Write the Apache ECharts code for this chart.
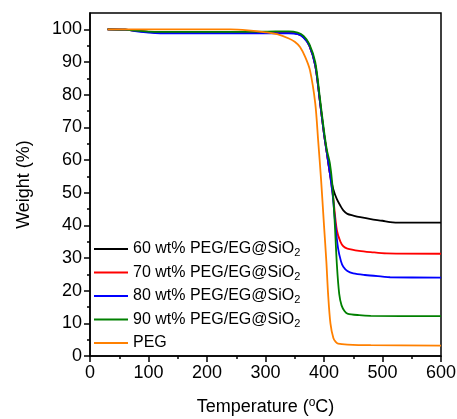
<!DOCTYPE html>
<html>
<head>
<meta charset="utf-8">
<script src="https://cdn.jsdelivr.net/npm/echarts@6/dist/echarts.min.js"></script>
<style>
html,body{margin:0;padding:0;background:#fff;}
#main{width:457px;height:419px;}
</style>
</head>
<body>
<div id="main"></div>
<script>
// TGA curves
var names=['60 wt% PEG/EG@SiO2','70 wt% PEG/EG@SiO2','80 wt% PEG/EG@SiO2','90 wt% PEG/EG@SiO2','PEG'];
var colors=['#000000','#ff0000','#0000ff','#008000','#ff8000'];

var t60=[30,60,80,100,120,200,300,340,355,365,375,385,393,400,405,410,416,422,428,433,440,450,462,480,500,513,530,600];
var w60=[100,99.9,99.5,99.2,99.0,99.0,99.0,99.0,98.6,97.6,95,89,78,68,62,56,51,48,46,44.6,43.5,43,42.5,41.9,41.4,41,40.8,40.8];

var t70=[30,60,80,100,120,200,300,340,355,365,375,385,393,400,405,410,416,422,428,433,440,460,480,507,600];
var w70=[100,99.9,99.5,99.2,99.0,99.0,99.0,99.0,98.6,97.6,95,89,78,68,62,56,48,38.5,35,33.6,32.9,32.2,31.8,31.4,31.3];

var t80=[30,60,80,100,120,200,300,340,355,365,375,385,393,400,405,410,415,419,424,429,433,440,450,470,500,513,600];
var w80=[100,99.9,99.4,99.0,98.8,98.8,98.8,98.8,98.5,97.5,95,89,78,68,62,56,49,41,33,29,27.3,26,25.3,24.8,24.3,24.1,24];

var t90=[30,60,80,100,120,200,300,340,355,365,375,385,393,400,405,410,414,418,422,426,430,435,440,460,480,600];
var w90=[100,99.9,99.6,99.3,99.2,99.2,99.3,99.4,99.0,98.0,95.5,90,79,69,63,59,53,42,28,19,15.5,13.8,13,12.5,12.3,12.2];

var tPEG=[30,240,270,300,320,340,350,359,368,376,385,390,395,400,404,407,411,416,420,424,440,480,600];
var wPEG=[100,100,99.7,99.1,98.5,97.2,96.2,94.6,91.5,87.5,77.4,66,54,40,29,19,10,5.5,4.3,3.8,3.5,3.3,3.2];

var temps=[t60,t70,t80,t90,tPEG];
var weights=[w60,w70,w80,w90,wPEG];

var yTicks=[0,10,20,30,40,50,60,70,80,90,100];
var yMinor=[5,15,25,35,45,55,65,75,85,95];

function pairs(t,w){
    var res=[];
    for(var i=0;i<t.length;i++) res.push([t[i],w[i]]);
    return res;
}

function legendText(name){
    if(name.slice(-2)==='O2') return '{a|'+name.slice(0,-1)+'}{s|2}';
    return '{a|'+name+'}';
}

var myChart=echarts.init(document.getElementById('main'));
var font='"Liberation Sans", Arial, sans-serif';

var series=[];
for(var i=0;i<names.length;i++){
    series.push({
        name:names[i],
        type:'line',
        data:pairs(temps[i],weights[i]),
        symbol:'none',
        smooth:0.3,
        lineStyle:{color:colors[i],width:1.8},
        itemStyle:{color:colors[i]},
        animation:false
    });
}

var option={
    backgroundColor:'#fff',
    animation:false,
    textStyle:{fontFamily:font},
    grid:{left:90,right:16,top:13,bottom:63,show:true,borderColor:'#000',borderWidth:1.5,
        containLabel:false,outerBoundsMode:'none'},
    legend:{
        orient:'vertical',
        left:88,
        top:236,
        itemWidth:34,
        itemHeight:14,
        itemGap:6,
        data:names,
        itemStyle:{opacity:0},
        formatter:legendText,
        textStyle:{
            fontFamily:font,color:'#000',
            rich:{
                a:{fontSize:16,fontFamily:font,color:'#000'},
                s:{fontSize:11,fontFamily:font,color:'#000',padding:[8,0,0,0]}
            }
        }
    },
    xAxis:{
        type:'value',
        min:0,max:600,interval:100,
        name:'Temperature ({sup|o}C)',
        nameLocation:'middle',
        nameGap:41,
        nameTextStyle:{
            fontSize:18,color:'#000',fontFamily:font,
            rich:{sup:{fontSize:12,color:'#000',fontFamily:font,padding:[0,0,9,0]}}
        },
        axisLine:{lineStyle:{color:'#000',width:1.5}},
        axisTick:{show:true,inside:false,length:6,lineStyle:{color:'#000',width:1.5}},
        minorTick:{show:true,splitNumber:2,length:3,lineStyle:{color:'#000',width:1.5}},
        axisLabel:{fontSize:18,color:'#000',margin:8,fontFamily:font},
        splitLine:{show:false}
    },
    yAxis:[{
        type:'value',
        min:0,max:105,
        name:'Weight (%)',
        nameLocation:'middle',
        nameGap:57,
        nameTextStyle:{fontSize:18,color:'#000',fontFamily:font},
        axisLine:{lineStyle:{color:'#000',width:1.5}},
        axisTick:{show:true,length:6,customValues:yTicks,lineStyle:{color:'#000',width:1.5}},
        axisLabel:{fontSize:18,color:'#000',margin:8,fontFamily:font,customValues:yTicks},
        splitLine:{show:false}
    },{
        type:'value',
        min:0,max:105,
        position:'left',
        axisLine:{show:false},
        axisTick:{show:true,length:3,customValues:yMinor,lineStyle:{color:'#000',width:1.5}},
        axisLabel:{show:false},
        splitLine:{show:false}
    }],
    series:series
};
myChart.setOption(option);
</script>
</body>
</html>
